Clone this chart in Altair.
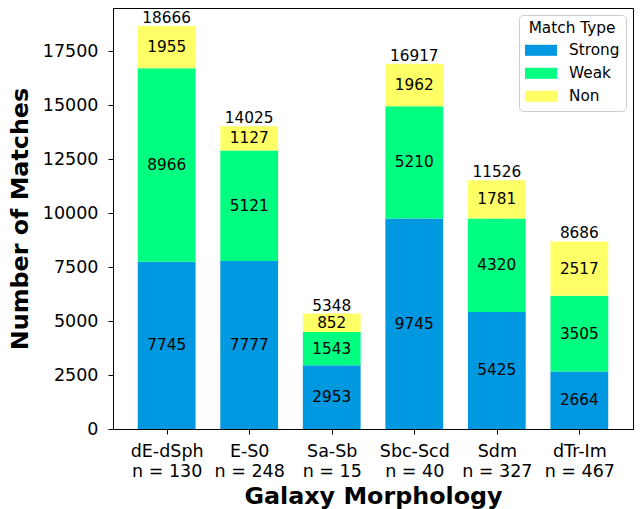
import json
import altair as alt
import pandas as pd

categories = ["dE-dSph", "E-S0", "Sa-Sb", "Sbc-Scd", "Sdm", "dTr-Im"]
n_counts = [130, 248, 15, 40, 327, 467]
strong = [7745, 7777, 2953, 9745, 5425, 2664]
weak = [8966, 5121, 1543, 5210, 4320, 3505]
non = [1955, 1127, 852, 1962, 1781, 2517]
types = ["Strong", "Weak", "Non"]
colors = ["#0098e0", "#00ff80", "#ffff66"]

rows = []
for i in range(len(categories)):
    for k, (t, vals) in enumerate(zip(types, [strong, weak, non])):
        rows.append({"idx": i, "type": t, "order": k, "value": vals[i]})
df = pd.DataFrame(rows)
df_tot = pd.DataFrame({"idx": list(range(len(categories))),
                       "total": [s + w + n for s, w, n in zip(strong, weak, non)]})

FONT = "DejaVu Sans"
xscale = alt.Scale(domain=[-0.65, len(categories) - 1 + 0.65], nice=False, zero=False)
yscale = alt.Scale(domain=[0, 19500], nice=False)

label_expr = "[{}[datum.value], 'n = ' + {}[datum.value]]".format(
    json.dumps(categories), json.dumps([str(n) for n in n_counts]))

xaxis = alt.Axis(values=list(range(len(categories))), labelExpr=label_expr,
                 title="Galaxy Morphology", labelLineHeight=20, labelPadding=8,
                 titlePadding=5, labelAngle=0, labelBaseline="top")
yaxis = alt.Axis(values=list(range(0, 17501, 2500)), format="d",
                 title="Number of Matches", labelPadding=10, titlePadding=10)
right_axis = alt.Axis(orient="right", labels=False, title=None,
                      values=list(range(0, 17501, 2500)), domain=False)

base = alt.Chart(df).transform_stack(
    stack="value", groupby=["idx"], as_=["y0", "y1"],
    sort=[alt.SortField("order", order="ascending")]
).transform_calculate(
    xl="datum.idx - 0.35", xr="datum.idx + 0.35", ym="(datum.y0 + datum.y1) / 2"
)

bars = base.mark_bar(strokeWidth=0).encode(
    x=alt.X("xl:Q", scale=xscale, axis=xaxis),
    x2="xr:Q",
    y=alt.Y("y0:Q", scale=yscale, axis=yaxis),
    y2="y1:Q",
    color=alt.Color("type:N", scale=alt.Scale(domain=types, range=colors),
                    legend=alt.Legend(title="Match Type",
                                      symbolType="M-2,-0.69H2V0.69H-2Z",
                                      symbolSize=256, symbolStrokeWidth=0,
                                      symbolOffset=8, labelOffset=20)),
)

seg_text = base.mark_text(font=FONT, fontSize=15.3, color="black").encode(
    x=alt.X("idx:Q", scale=xscale, axis=xaxis),
    y=alt.Y("ym:Q", scale=yscale, axis=None),
    text="value:Q",
)

tot_text = alt.Chart(df_tot).mark_text(font=FONT, fontSize=15.3, color="black",
                                       baseline="alphabetic", dy=-3).encode(
    x=alt.X("idx:Q", scale=xscale, axis=xaxis),
    y=alt.Y("total:Q", scale=yscale, axis=None),
    text="total:Q",
)

right = alt.Chart(df_tot).mark_point(opacity=0).encode(
    y=alt.Y("total:Q", scale=yscale, axis=right_axis),
)

chart = alt.layer(bars, seg_text, tot_text, right).resolve_scale(
    y="independent"
).properties(
    width=520, height=421,
    autosize=alt.AutoSizeParams(type="none"),
    padding={"left": 105, "top": 0, "right": 1, "bottom": 80},
).configure_view(
    stroke="black", strokeWidth=1
).configure_axis(
    labelFont=FONT, titleFont=FONT, labelFontSize=17.5, titleFontSize=23.8,
    titleFontWeight="bold", labelColor="black", titleColor="black",
    tickColor="black", domainColor="black", tickSize=5, grid=False,
    domainWidth=1, tickWidth=1,
).configure_legend(
    orient="top-right", offset=7, padding=6, fillColor="white",
    strokeColor="#cccccc", cornerRadius=4, titleFont=FONT, labelFont=FONT,
    titleFontSize=15.3, labelFontSize=15.3, titleFontWeight="normal",
    titleColor="black", labelColor="black", rowPadding=6,
    titlePadding=6, titleAnchor="middle",
)

chart.save("out.html", embed_options={"renderer": "svg", "actions": False})
